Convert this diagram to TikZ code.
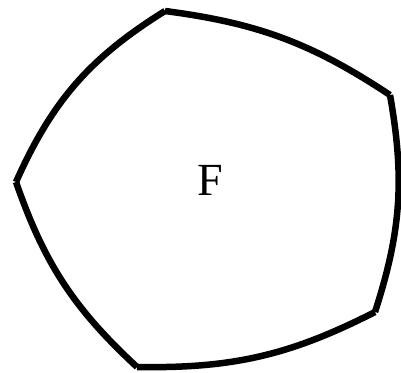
\documentclass[tikz,border=0pt]{standalone}
\usepackage{fontspec}
\setmainfont{Liberation Serif}
\begin{document}
\begin{tikzpicture}[
    x=1pt, y=1pt,
    edge/.style={line width=6.5pt, line cap=butt},
    face/.style={font=\fontsize{46}{46}\selectfont, inner sep=0pt},
]
\useasboundingbox (0,0) rectangle (401,372);

% corners of the face
\coordinate (ca) at (165,361);
\coordinate (cb) at (390,277);
\coordinate (cc) at (375,60);
\coordinate (cd) at (137,5);
\coordinate (ce) at (16,190);

% curved edges
\draw[edge] (ca) to[bend left=13] (cb);
\draw[edge] (cb) to[bend left=14] (cc);
\draw[edge] (cc) to[bend left=14] (cd);
\draw[edge] (cd) to[bend left=14] (ce);
\draw[edge] (ce) to[bend left=17] (ca);

\node[face] (lbl) at (210,192) {F};
\end{tikzpicture}
\end{document}
